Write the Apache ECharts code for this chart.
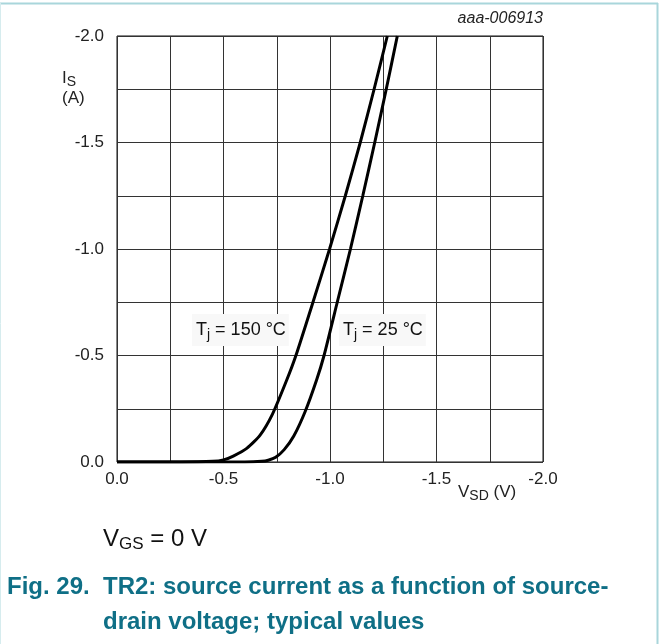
<!DOCTYPE html>
<html>
<head>
<meta charset="utf-8">
<script src="https://cdn.jsdelivr.net/npm/echarts@6/dist/echarts.min.js"></script>
<style>
  html, body { margin: 0; padding: 0; background: #fff; }
  #chart { width: 660px; height: 644px; }
</style>
</head>
<body>
<div id="chart"></div>
<script>
// source-drain voltage (V) and source current (A)
const vsd150 = [0, -0.30, -0.45, -0.50, -0.546, -0.609, -0.671, -0.73, -0.795, -0.84, -0.92, -0.998, -1.072, -1.142, -1.207, -1.269];
const is150  = [0, 0, -0.003, -0.010, -0.028, -0.064, -0.125, -0.225, -0.38, -0.5, -0.75, -1.0, -1.25, -1.5, -1.75, -2.0];

const vsd25 = [0, -0.60, -0.68, -0.71, -0.745, -0.785, -0.83, -0.883, -0.937, -0.972, -1.034, -1.096, -1.154, -1.21, -1.264, -1.316];
const is25  = [0, 0, -0.003, -0.008, -0.022, -0.058, -0.122, -0.236, -0.385, -0.5, -0.75, -1.0, -1.25, -1.5, -1.75, -2.0];

const tickLabels = ['0.0', '-0.5', '-1.0', '-1.5', '-2.0'];

const pairs = (xs, ys) => xs.map((x, i) => [x, ys[i]]);

const chart = echarts.init(document.getElementById('chart'));

const labelFont = 'Liberation Sans, Arial, sans-serif';
// gridlines every 0.25, labels only every 0.5
const fmt = (v) => {
  const r = Math.round(v * 100) / 100;
  if (Math.abs(r * 2 - Math.round(r * 2)) > 1e-6) return '';
  return tickLabels[Math.round(-r * 2)] || '';
};

const gridLine = { show: true, lineStyle: { color: '#333', width: 1, type: 'solid' } };

const option = {
  animation: false,
  backgroundColor: '#fff',
  grid: { left: 117, right: 117, top: 36, bottom: 182, show: true, borderColor: '#111', borderWidth: 1 },
  xAxis: {
    type: 'value',
    min: -2,
    max: 0,
    interval: 0.25,
    inverse: true,
    axisLine: { show: false },
    axisTick: { show: false },
    splitLine: gridLine,
    axisLabel: { formatter: fmt, color: '#222', fontSize: 17, fontFamily: labelFont, margin: 9, showMinLabel: true, showMaxLabel: true }
  },
  yAxis: {
    type: 'value',
    min: -2,
    max: 0,
    interval: 0.25,
    inverse: true,
    axisLine: { show: false },
    axisTick: { show: false },
    splitLine: gridLine,
    axisLabel: { formatter: fmt, color: '#222', fontSize: 17, fontFamily: labelFont, margin: 13, showMinLabel: true, showMaxLabel: true }
  },
  series: [
    {
      type: 'line',
      data: pairs(vsd150, is150),
      showSymbol: false,
      smooth: 0.2,
      clip: true,
      lineStyle: { color: '#000', width: 3 }
    },
    {
      type: 'line',
      data: pairs(vsd25, is25),
      showSymbol: false,
      smooth: 0.2,
      clip: true,
      lineStyle: { color: '#000', width: 3 }
    }
  ],
  graphic: [
    // frame
    { type: 'line', shape: { x1: 0, y1: 3.5, x2: 658, y2: 3.5 }, style: { stroke: '#a9d6db', lineWidth: 2 }, z: 10 },
    { type: 'line', shape: { x1: 657.5, y1: 3, x2: 657.5, y2: 644 }, style: { stroke: '#a9d6db', lineWidth: 2 }, z: 10 },
    { type: 'line', shape: { x1: 0.5, y1: 3, x2: 0.5, y2: 644 }, style: { stroke: '#d6ecee', lineWidth: 1 }, z: 10 },
    {
      type: 'text', right: 117, top: 11,
      style: { text: 'aaa-006913', font: 'italic 16px Liberation Sans, Arial, sans-serif', fill: '#222' }
    },
    {
      type: 'text', left: 62, top: 70,
      style: {
        text: '{m|I}{s|S}\n{m|(A)}',
        rich: {
          m: { fontSize: 17, fontFamily: labelFont, fill: '#222', lineHeight: 18 },
          s: { fontSize: 14, fontFamily: labelFont, fill: '#222', padding: [8, 0, 0, 0] }
        }
      }
    },
    {
      type: 'text', left: 458, top: 484,
      style: {
        text: '{m|V}{s|SD}{m| (V)}',
        rich: {
          m: { fontSize: 17, fontFamily: labelFont, fill: '#222' },
          s: { fontSize: 14, fontFamily: labelFont, fill: '#222', padding: [8, 0, 0, 0] }
        }
      }
    },
    {
      type: 'text', left: 192, top: 314, z: 20,
      style: {
        text: '{m|T}{s|j}{m| = 150 °C}',
        backgroundColor: '#f8f8f8',
        padding: [4, 3, 4, 4],
        rich: {
          m: { fontSize: 18, fontFamily: labelFont, fill: '#111' },
          s: { fontSize: 14, fontFamily: labelFont, fill: '#111', padding: [10, 0, 0, 0] }
        }
      }
    },
    {
      type: 'text', left: 339, top: 314, z: 20,
      style: {
        text: '{m|T}{s|j}{m| = 25 °C}',
        backgroundColor: '#f8f8f8',
        padding: [4, 3, 4, 4],
        rich: {
          m: { fontSize: 18, fontFamily: labelFont, fill: '#111' },
          s: { fontSize: 14, fontFamily: labelFont, fill: '#111', padding: [10, 0, 0, 0] }
        }
      }
    },
    {
      type: 'text', left: 103, top: 527,
      style: {
        text: '{m|V}{s|GS}{m| = 0 V}',
        rich: {
          m: { fontSize: 24, fontFamily: labelFont, fill: '#111' },
          s: { fontSize: 17, fontFamily: labelFont, fill: '#111', padding: [11, 0, 0, 0] }
        }
      }
    },
    {
      type: 'text', left: 7, top: 570,
      style: { text: 'Fig. 29.', font: 'bold 24px Liberation Sans, Arial, sans-serif', lineHeight: 35, fill: '#0f6f86' }
    },
    {
      type: 'text', left: 103, top: 570,
      style: {
        text: 'TR2: source current as a function of source-\ndrain voltage; typical values',
        font: 'bold 24px Liberation Sans, Arial, sans-serif',
        lineHeight: 35,
        fill: '#0f6f86'
      }
    }
  ]
};

chart.setOption(option);
</script>
</body>
</html>
